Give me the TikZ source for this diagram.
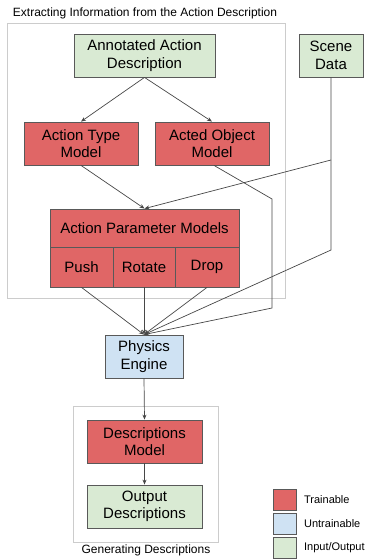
\documentclass[tikz,border=0pt]{standalone}
\usepackage{fontspec}
\setmainfont{Liberation Sans}
\usetikzlibrary{arrows.meta,positioning}
\definecolor{trainred}{HTML}{E06666}
\definecolor{untrainblue}{HTML}{CFE2F3}
\definecolor{iogreen}{HTML}{D9EAD3}
\definecolor{edgegray}{HTML}{595959}
\definecolor{groupgray}{HTML}{CCCCCC}

\begin{document}
\begin{tikzpicture}[x=1pt,y=-1pt,
  box/.style={draw=edgegray,line width=0.8pt,align=center,inner sep=0pt,
    minimum height=43pt,font=\fontsize{15}{17.5}\selectfont},
  trainable/.style={box,fill=trainred},
  untrainable/.style={box,fill=untrainblue},
  inout/.style={box,fill=iogreen},
  group/.style={draw=groupgray,line width=0.8pt},
  flow/.style={draw=edgegray!80!black,line width=0.7pt,-{Stealth[length=5pt,width=4pt]}},
  key/.style={draw=edgegray,line width=0.8pt,minimum width=23pt,minimum height=21pt,inner sep=0pt},
  keylabel/.style={anchor=west,inner sep=0pt,font=\fontsize{11}{13}\selectfont}]
  \useasboundingbox (0,0) rectangle (369,559);
  \draw[group] (7,23) rectangle (285,298);
  \node[font=\fontsize{12}{14}\selectfont] (extracttitle) at (145,13) {Extracting Information from the Action Description};
  \draw[group] (73,406) rectangle (218,542);
  \node[font=\fontsize{12}{14}\selectfont] (generatetitle) at (146,550) {Generating Descriptions};
  \node[inout,minimum width=141pt] (annot) at (144.5,55.5) {Annotated Action\\Description};
  \node[inout,minimum width=64pt] (scene) at (331,55.5) {Scene\\Data};
  \node[trainable,minimum width=114pt] (typemodel) at (81,143.5) {Action Type\\Model};
  \node[trainable,minimum width=114pt] (objmodel) at (212,143.5) {Acted Object\\Model};
  \node[trainable,minimum width=189pt,minimum height=38pt] (params) at (144.5,228) {Action Parameter Models};
  \node[trainable,minimum width=63pt,minimum height=40pt] (push) at (81.5,267) {Push};
  \node[trainable,minimum width=62pt,minimum height=40pt] (rotate) at (144,267) {Rotate};
  \node[trainable,minimum width=64pt,minimum height=40pt] (drop) at (207,267) {Drop};
  \node[untrainable,minimum width=78pt] (physics) at (144,356.5) {Physics\\Engine};
  \node[trainable,minimum width=115pt] (descmodel) at (144.5,441.5) {Descriptions\\Model};
  \node[inout,minimum width=115pt] (output) at (144.5,506.5) {Output\\Descriptions};
  \node[key,fill=trainred] (keytrain) at (285,499.5) {};
  \node[key,fill=untrainblue] (keyuntrain) at (285,523.5) {};
  \node[key,fill=iogreen] (keyio) at (285,547.5) {};
  \node[keylabel,right=7pt of keytrain] {Trainable};
  \node[keylabel,right=7pt of keyuntrain] {Untrainable};
  \node[keylabel,right=7pt of keyio] {Input/Output};
  \coordinate (scenesplit) at (331,160);
  \coordinate (scenebend) at (331,250);
  \coordinate (objbend) at (272,199);
  \coordinate (objdown) at (272,308);
  \draw[flow] (annot.south) -- (typemodel.north);
  \draw[flow] (annot.south) -- (objmodel.north);
  \draw[flow] (typemodel.south) -- (params.north);
  \draw[flow] (scenesplit) -- (params.north);
  \draw[flow] (scene.south) -- (scenebend) -- (physics.north);
  \draw[flow] ([xshift=2pt]objmodel.south) -- (objbend) -- (objdown) -- (physics.north);
  \draw[flow] (push.south) -- (physics.north);
  \draw[flow] (rotate.south) -- (physics.north);
  \draw[flow] (drop.south) -- (physics.north);
  \draw[flow] (physics.south) -- (descmodel.north);
  \draw[flow] (descmodel.south) -- (output.north);
\end{tikzpicture}
\end{document}
